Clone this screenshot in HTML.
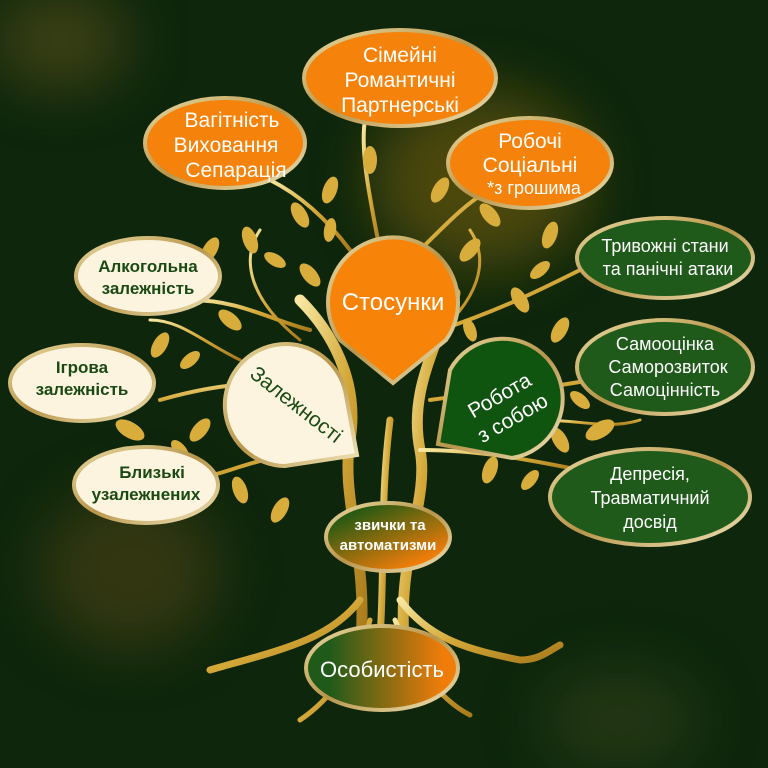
<!DOCTYPE html>
<html><head><meta charset="utf-8"><style>
html,body{margin:0;padding:0;background:#0d260c}
svg{display:block}
text{font-family:"Liberation Sans","DejaVu Sans",sans-serif}
</style></head><body>
<svg width="768" height="768" viewBox="0 0 768 768" xmlns="http://www.w3.org/2000/svg">
<defs>
<filter id="bl" x="-50%" y="-50%" width="200%" height="200%"><feGaussianBlur stdDeviation="30"/></filter>
<linearGradient id="gold" x1="0" y1="0" x2="1" y2="1"><stop offset="0" stop-color="#f7e7a0"/><stop offset="0.5" stop-color="#d4a838"/><stop offset="1" stop-color="#a87a1c"/></linearGradient>
<linearGradient id="rim" x1="0" y1="0" x2="1" y2="1"><stop offset="0" stop-color="#e8d9a0"/><stop offset="0.5" stop-color="#b8954a"/><stop offset="1" stop-color="#f0e4b8"/></linearGradient>
<linearGradient id="go" x1="0" y1="0" x2="1" y2="0"><stop offset="0.15" stop-color="#1f5a1a"/><stop offset="0.9" stop-color="#f07d0a"/></linearGradient>
<linearGradient id="go2" x1="0" y1="0" x2="0.8" y2="1"><stop offset="0.2" stop-color="#2a5a12"/><stop offset="0.9" stop-color="#f07d0a"/></linearGradient>
</defs>
<rect width="768" height="768" fill="#0d260c"/>
<g filter="url(#bl)" opacity="0.5">
<ellipse cx="60" cy="40" rx="70" ry="50" fill="#6a5a1a"/>
<ellipse cx="480" cy="180" rx="110" ry="90" fill="#8a6a10"/>
<ellipse cx="130" cy="570" rx="90" ry="80" fill="#5a4a15"/>
<ellipse cx="620" cy="720" rx="80" ry="50" fill="#3a4a1a"/>
</g>
<g fill="none" stroke="url(#gold)" stroke-linecap="round">
<path d="M360 650 C370 560 340 500 350 440 C360 380 330 330 300 300" stroke-width="11"/>
<path d="M405 650 C395 560 430 500 420 450 C410 400 430 360 440 330" stroke-width="11"/>
<path d="M380 640 C385 560 380 500 390 420" stroke-width="7"/>
<path d="M360 600 C330 640 280 650 210 670" stroke-width="7"/>
<path d="M400 600 C430 640 470 650 520 660 C540 660 550 650 560 645" stroke-width="7"/>
<path d="M370 620 C360 660 330 700 300 720" stroke-width="5"/>
<path d="M395 620 C410 660 440 700 470 715" stroke-width="5"/>
<path d="M350 440 C300 450 260 460 230 470 C200 480 180 480 160 480" stroke-width="4"/>
<path d="M330 390 C280 380 230 380 160 400" stroke-width="4"/>
<path d="M310 330 C270 320 240 300 190 300" stroke-width="4"/>
<path d="M420 450 C480 450 530 460 580 470" stroke-width="4"/>
<path d="M430 400 C500 390 540 390 590 380" stroke-width="4"/>
<path d="M440 330 C500 310 540 290 580 270" stroke-width="4"/>
<path d="M380 250 C370 200 360 150 365 120" stroke-width="4"/>
<path d="M350 250 C320 210 290 190 270 180" stroke-width="4"/>
<path d="M420 250 C450 220 470 200 490 190" stroke-width="4"/>
<path d="M430 340 C480 300 490 260 470 230" stroke-width="3"/>
<path d="M300 340 C250 300 240 260 260 230" stroke-width="3"/>
<path d="M240 360 C200 340 180 320 150 320" stroke-width="3"/>
<path d="M540 420 C580 420 610 430 640 420" stroke-width="3"/>
</g>
<g fill="#d8ad3c">
<ellipse cx="300" cy="215" rx="7" ry="14" transform="rotate(-30 300 215)"/>
<ellipse cx="330" cy="190" rx="7" ry="14" transform="rotate(20 330 190)"/>
<ellipse cx="370" cy="160" rx="7" ry="14"/>
<ellipse cx="440" cy="190" rx="7" ry="14" transform="rotate(30 440 190)"/>
<ellipse cx="490" cy="215" rx="7" ry="14" transform="rotate(-40 490 215)"/>
<ellipse cx="550" cy="235" rx="7" ry="14" transform="rotate(20 550 235)"/>
<ellipse cx="470" cy="250" rx="7" ry="14" transform="rotate(40 470 250)"/>
<ellipse cx="520" cy="300" rx="7" ry="14" transform="rotate(-30 520 300)"/>
<ellipse cx="560" cy="330" rx="7" ry="14" transform="rotate(30 560 330)"/>
<ellipse cx="600" cy="430" rx="8" ry="16" transform="rotate(60 600 430)"/>
<ellipse cx="560" cy="440" rx="7" ry="14" transform="rotate(-30 560 440)"/>
<ellipse cx="490" cy="470" rx="7" ry="14" transform="rotate(20 490 470)"/>
<ellipse cx="250" cy="240" rx="7" ry="14" transform="rotate(-20 250 240)"/>
<ellipse cx="210" cy="250" rx="7" ry="14" transform="rotate(30 210 250)"/>
<ellipse cx="230" cy="320" rx="7" ry="14" transform="rotate(-50 230 320)"/>
<ellipse cx="160" cy="345" rx="7" ry="14" transform="rotate(30 160 345)"/>
<ellipse cx="130" cy="430" rx="8" ry="16" transform="rotate(-60 130 430)"/>
<ellipse cx="200" cy="430" rx="7" ry="14" transform="rotate(40 200 430)"/>
<ellipse cx="240" cy="490" rx="7" ry="14" transform="rotate(-20 240 490)"/>
<ellipse cx="280" cy="510" rx="7" ry="14" transform="rotate(30 280 510)"/>
<ellipse cx="310" cy="275" rx="7" ry="14" transform="rotate(-40 310 275)"/>
<ellipse cx="450" cy="300" rx="7" ry="14" transform="rotate(40 450 300)"/>
<ellipse cx="275" cy="260" rx="6" ry="12" transform="rotate(-60 275 260)"/>
<ellipse cx="190" cy="360" rx="6" ry="12" transform="rotate(50 190 360)"/>
<ellipse cx="180" cy="450" rx="6" ry="12" transform="rotate(-40 180 450)"/>
<ellipse cx="540" cy="270" rx="6" ry="12" transform="rotate(50 540 270)"/>
<ellipse cx="580" cy="400" rx="6" ry="12" transform="rotate(-50 580 400)"/>
<ellipse cx="530" cy="480" rx="6" ry="12" transform="rotate(40 530 480)"/>
<ellipse cx="470" cy="330" rx="6" ry="12" transform="rotate(-20 470 330)"/>
<ellipse cx="330" cy="230" rx="6" ry="12" transform="rotate(10 330 230)"/>
</g>
<g stroke="url(#rim)" stroke-width="4">
<ellipse cx="400" cy="78" rx="96" ry="48" fill="#f5820a"/>
<ellipse cx="225" cy="143" rx="80" ry="45" fill="#f5820a"/>
<ellipse cx="530" cy="163" rx="82" ry="45" fill="#f5820a"/>
<ellipse cx="665" cy="258" rx="88" ry="40" fill="#1f5a1a"/>
<ellipse cx="665" cy="367" rx="88" ry="47" fill="#1f5a1a"/>
<ellipse cx="650" cy="497" rx="100" ry="48" fill="#1f5a1a"/>
<ellipse cx="148" cy="276" rx="72" ry="38" fill="#fdf4e0"/>
<ellipse cx="82" cy="383" rx="72" ry="38" fill="#fdf4e0"/>
<ellipse cx="146" cy="485" rx="72" ry="38" fill="#fdf4e0"/>
<ellipse cx="388" cy="537" rx="62" ry="34" fill="url(#go2)"/>
<ellipse cx="382" cy="668" rx="76" ry="42" fill="url(#go)"/>
<path d="M393 383 L340 340 A65 65 0 1 1 446 340 Z" fill="#f78408"/>
<path d="M357 455 L285 466 A61 61 0 1 1 346 395 Z" fill="#fdf4e0"/>
<path d="M438 444 L450 370 A60 60 0 1 1 512 458 Z" fill="#0f5510"/>
</g>
<g fill="#fff" font-size="21" text-anchor="middle">
<text x="400" y="62">Сімейні</text>
<text x="400" y="87">Романтичні</text>
<text x="400" y="112">Партнерські</text>
<text x="232" y="127">Вагітність</text>
<text x="226" y="152">Виховання</text>
<text x="236" y="177">Сепарація</text>
<text x="530" y="148">Робочі</text>
<text x="530" y="172">Соціальні</text>
<text x="534" y="194" font-size="18">*з грошима</text>
<text x="393" y="310" font-size="24">Стосунки</text>
</g>
<g fill="#fff" font-size="18" text-anchor="middle">
<text x="665" y="252">Тривожні стани</text>
<text x="668" y="275">та панічні атаки</text>
<text x="665" y="350">Самооцінка</text>
<text x="668" y="373">Саморозвиток</text>
<text x="665" y="396">Самоцінність</text>
<text x="650" y="480">Депресія,</text>
<text x="650" y="504">Травматичний</text>
<text x="650" y="528">досвід</text>
<text x="382" y="677" font-size="22">Особистість</text>
<text x="390" y="530" font-size="15" font-weight="bold">звички та</text>
<text x="388" y="550" font-size="15" font-weight="bold">автоматизми</text>
<text transform="translate(505 405) rotate(-30)" font-size="21"><tspan x="0" y="-4">Робота</tspan><tspan x="0" y="22">з собою</tspan></text>
</g>
<g fill="#1a4a14" font-size="17" font-weight="bold" text-anchor="middle">
<text x="148" y="272">Алкогольна</text>
<text x="148" y="294">залежність</text>
<text x="82" y="373">Ігрова</text>
<text x="82" y="395">залежність</text>
<text x="152" y="478">Близькі</text>
<text x="146" y="500">узалежнених</text>
<text transform="translate(292 410) rotate(38)" font-size="21" font-weight="normal">Залежності</text>
</g>
</svg>
</body></html>
